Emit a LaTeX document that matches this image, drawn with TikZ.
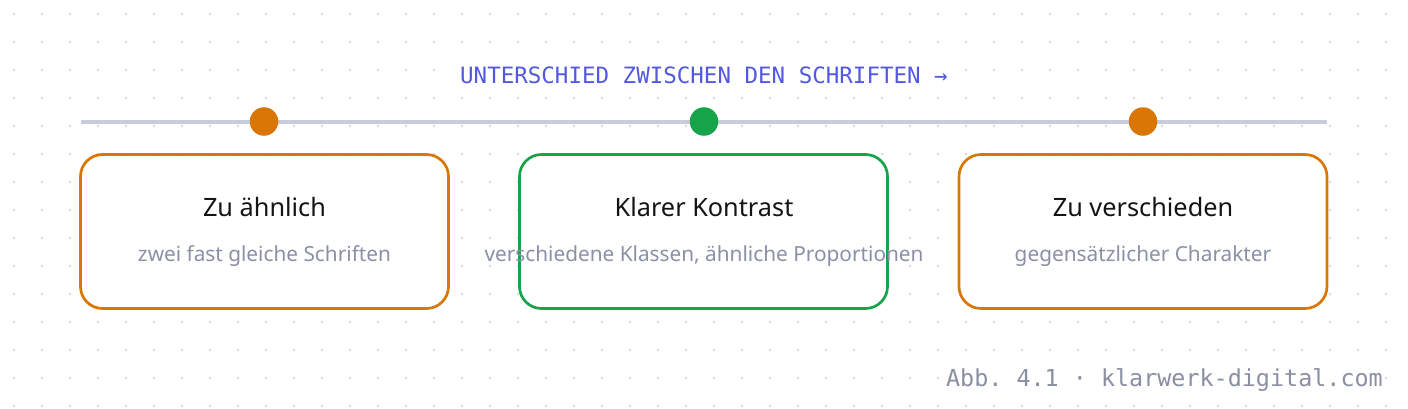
\documentclass[tikz,border=0pt]{standalone}
\usepackage{fontspec}
\setmainfont{Noto Sans}
\setmonofont{DejaVu Sans Mono}
\definecolor{orng}{HTML}{D97706}
\definecolor{grn}{HTML}{16A34A}
\definecolor{railc}{HTML}{C9CCDD}
\definecolor{dotc}{HTML}{D9DAE2}
\definecolor{headc}{HTML}{5259DF}
\definecolor{subc}{HTML}{8A90A6}
\definecolor{footc}{HTML}{8A8FA3}
\definecolor{titc}{HTML}{141414}
\tikzset{
  card/.style={draw, fill=white, line width=2.7pt, rounded corners=22pt,
    minimum width=368pt, minimum height=154pt, inner sep=0pt},
  marker/.style={circle, inner sep=0pt, minimum size=28.5pt},
  cardtitle/.style={anchor=base, text=titc, inner sep=0pt,
    font=\fontsize{25.3}{30}\selectfont},
  cardsub/.style={anchor=base, text=subc, inner sep=0pt,
    font=\fontsize{20.8}{25}\selectfont},
  monolabel/.style={fill=white, inner sep=2pt, font=\ttfamily}
}
\begin{document}
\begin{tikzpicture}[x=1pt,y=-1pt]
\useasboundingbox (0,0) rectangle (1408,408);
\fill[white] (0,0) rectangle (1408,408);
% dot grid
\foreach \i in {0,...,50}{
  \foreach \j in {0,...,14}{
    \fill[dotc] (14+28*\i,14+28*\j) circle (1.4);
  }
}
% heading
\node[monolabel, anchor=base, text=headc, font=\ttfamily\fontsize{22.5}{27}\selectfont]
  (head) at (704,83) {UNTERSCHIED ZWISCHEN DEN SCHRIFTEN →};
% rail
\coordinate (rs) at (81,121.5);
\coordinate (re) at (1327,121.5);
\draw[railc, line width=4pt] (rs) -- (re);
% cards
\node[card, draw=orng] (b1) at (264.5,231.5) {};
\node[card, draw=grn]  (b2) at (703.5,231.5) {};
\node[card, draw=orng] (b3) at (1143,231.5) {};
% markers
\node[marker, fill=orng] (m1) at (264,121.5) {};
\node[marker, fill=grn]  (m2) at (704,121.5) {};
\node[marker, fill=orng] (m3) at (1143,121.5) {};
% card texts
\node[cardtitle] (t1) at (264.5,216) {Zu ähnlich};
\node[cardsub]   (s1) at (264.5,261) {zwei fast gleiche Schriften};
\node[cardtitle] (t2) at (704,216) {Klarer Kontrast};
\node[cardsub]   (s2) at (704,261) {verschiedene Klassen, ähnliche Proportionen};
\node[cardtitle] (t3) at (1143,216) {Zu verschieden};
\node[cardsub]   (s3) at (1143,261) {gegensätzlicher Charakter};
% footer
\node[monolabel, anchor=base east, text=footc, font=\ttfamily\fontsize{23.4}{28}\selectfont, inner sep=1.5pt]
  (foot) at (1384.5,386) {Abb. 4.1 · klarwerk-digital.com};
\end{tikzpicture}
\end{document}
